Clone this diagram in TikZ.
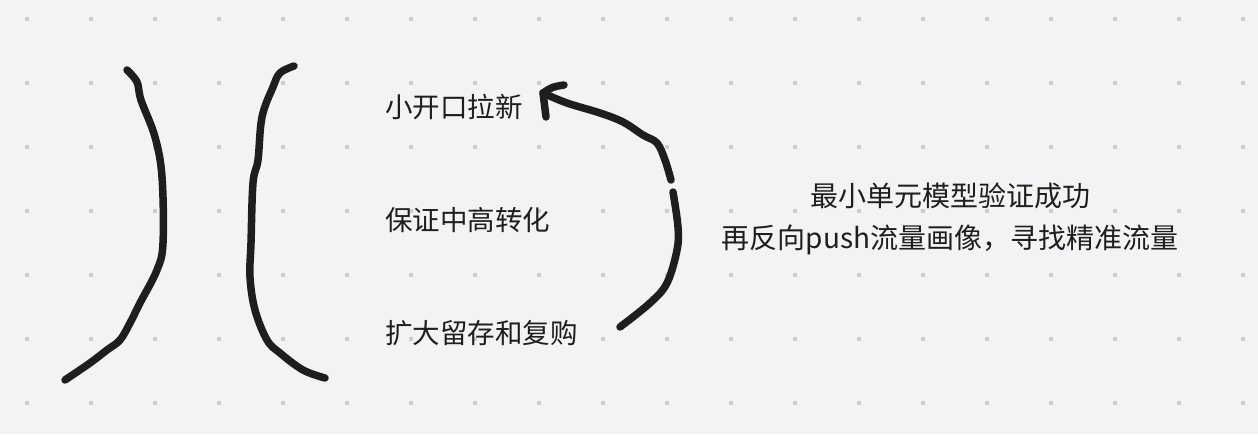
\documentclass[tikz,border=0pt]{standalone}
\usepackage{fontspec}
\setmainfont{Noto Sans CJK SC}
\definecolor{bg}{HTML}{F3F3F5}
\definecolor{ink}{HTML}{1E1E1E}
\definecolor{dotc}{HTML}{CDCDCD}
\begin{document}
\begin{tikzpicture}[x=1pt,y=-1pt,
  label/.style={font=\fontsize{27.5}{32}\selectfont, text=ink, inner sep=0pt},
  biglabel/.style={font=\fontsize{28}{42}\selectfont, text=ink, inner sep=0pt, align=center},
  stroke/.style={draw=ink, line width=7.5pt, line cap=round, line join=round}]
\fill[bg] (0,0) rectangle (1258,434);
\useasboundingbox (0,0) rectangle (1258,434);
\foreach \i in {0,...,19}{
  \foreach \j in {0,...,6}{
    \fill[dotc] ({27+64*\i-2},{19+64*\j-2}) rectangle ++(4,4);
  }
}
% left bracket
\draw[stroke] plot[smooth, tension=0.6] coordinates {(127,70) (137,82) (141,100) (155,137) (162,177) (163,243) (157,270) (140,303) (130,323) (120,340) (107,350) (90,363) (65,380)};
% right bracket
\draw[stroke] plot[smooth, tension=0.6] coordinates {(294,66) (280,73) (273,87) (262,117) (258,160) (253,183) (251,243) (250,277) (255,310) (267,340) (280,353) (303,370) (325,378)};
% texts
\node[label, anchor=west] (t1) at (385,107) {小开口拉新};
\node[label, anchor=west] (t2) at (385,220) {保证中高转化};
\node[label, anchor=west] (t3) at (385,333) {扩大留存和复购};
\node[biglabel] (t4) at (950,219) {最小单元模型验证成功\\再反向push流量画像，寻找精准流量};
% arrow
\coordinate (a0) at (620,327);
\coordinate (tip) at (543,93);
\draw[stroke] plot[smooth, tension=0.6] coordinates {(a0) (650,303) (667,283) (677,250) (678,227) (673,192)};
\draw[stroke] plot[smooth, tension=0.6] coordinates {(671,180) (665,160) (657,143) (643,135) (623,122) (600,113) (567,103) (tip)};
\coordinate (h1) at (564,85);
\coordinate (h2) at (546,117);
\draw[stroke] (h1) .. controls (552,87) .. (tip) -- (h2);
\end{tikzpicture}
\end{document}
